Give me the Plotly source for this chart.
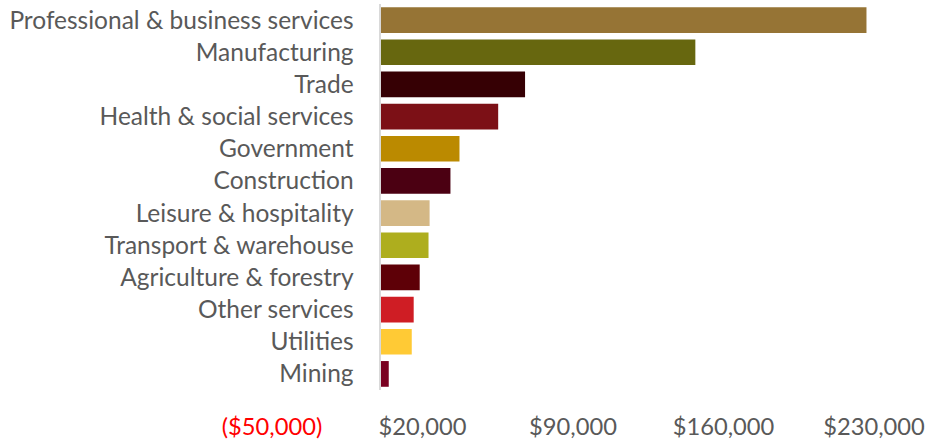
import plotly.graph_objects as go

categories = ["Professional & business services", "Manufacturing", "Trade",
              "Health & social services", "Government", "Construction",
              "Leisure & hospitality", "Transport & warehouse",
              "Agriculture & forestry", "Other services", "Utilities", "Mining"]
values = [226500, 146900, 67700, 55200, 37200, 33000, 23300, 22800, 18700, 15900, 15000, 4300]
colors = ["#967435", "#67670F", "#360004", "#7C1016", "#BB8A00", "#4B0012",
          "#D4B886", "#AEAE1E", "#5E0007", "#CF1D24", "#FFCA35", "#7A0020"]
tick_vals = [-50000, 20000, 90000, 160000, 230000]
tick_text = ['<span style="color:#FF0000">($50,000)</span>', "$20,000", "$90,000", "$160,000", "$230,000"]

fig = go.Figure(go.Bar(
    x=values, y=categories, orientation="h",
    marker=dict(color=colors, line=dict(width=0)),
    width=0.8,
))

font_family = "Lato"
fig.update_layout(
    width=929, height=444,
    margin=dict(l=272, r=52, t=4, b=50),
    paper_bgcolor="white", plot_bgcolor="white",
    showlegend=False,
    font=dict(family=font_family, size=23, color="#595959"),
    xaxis=dict(range=[-50000, 230000], tickvals=tick_vals, ticktext=tick_text,
               showgrid=False, zeroline=False, showline=False,
               ticks="", ticklabelstandoff=20,
               tickfont=dict(size=23.7, color="#595959")),
    yaxis=dict(categoryorder="array", categoryarray=categories[::-1],
               anchor="free", position=50000 / 280000,
               showline=True, linecolor="#D9D9D9", linewidth=2,
               showgrid=False, ticks="", ticklabelstandoff=20,
               tickfont=dict(size=24.5, color="#595959")),
)

fig.write_html("out.html", config={"displayModeBar": False},
               post_script="document.body.style.margin='0';")
